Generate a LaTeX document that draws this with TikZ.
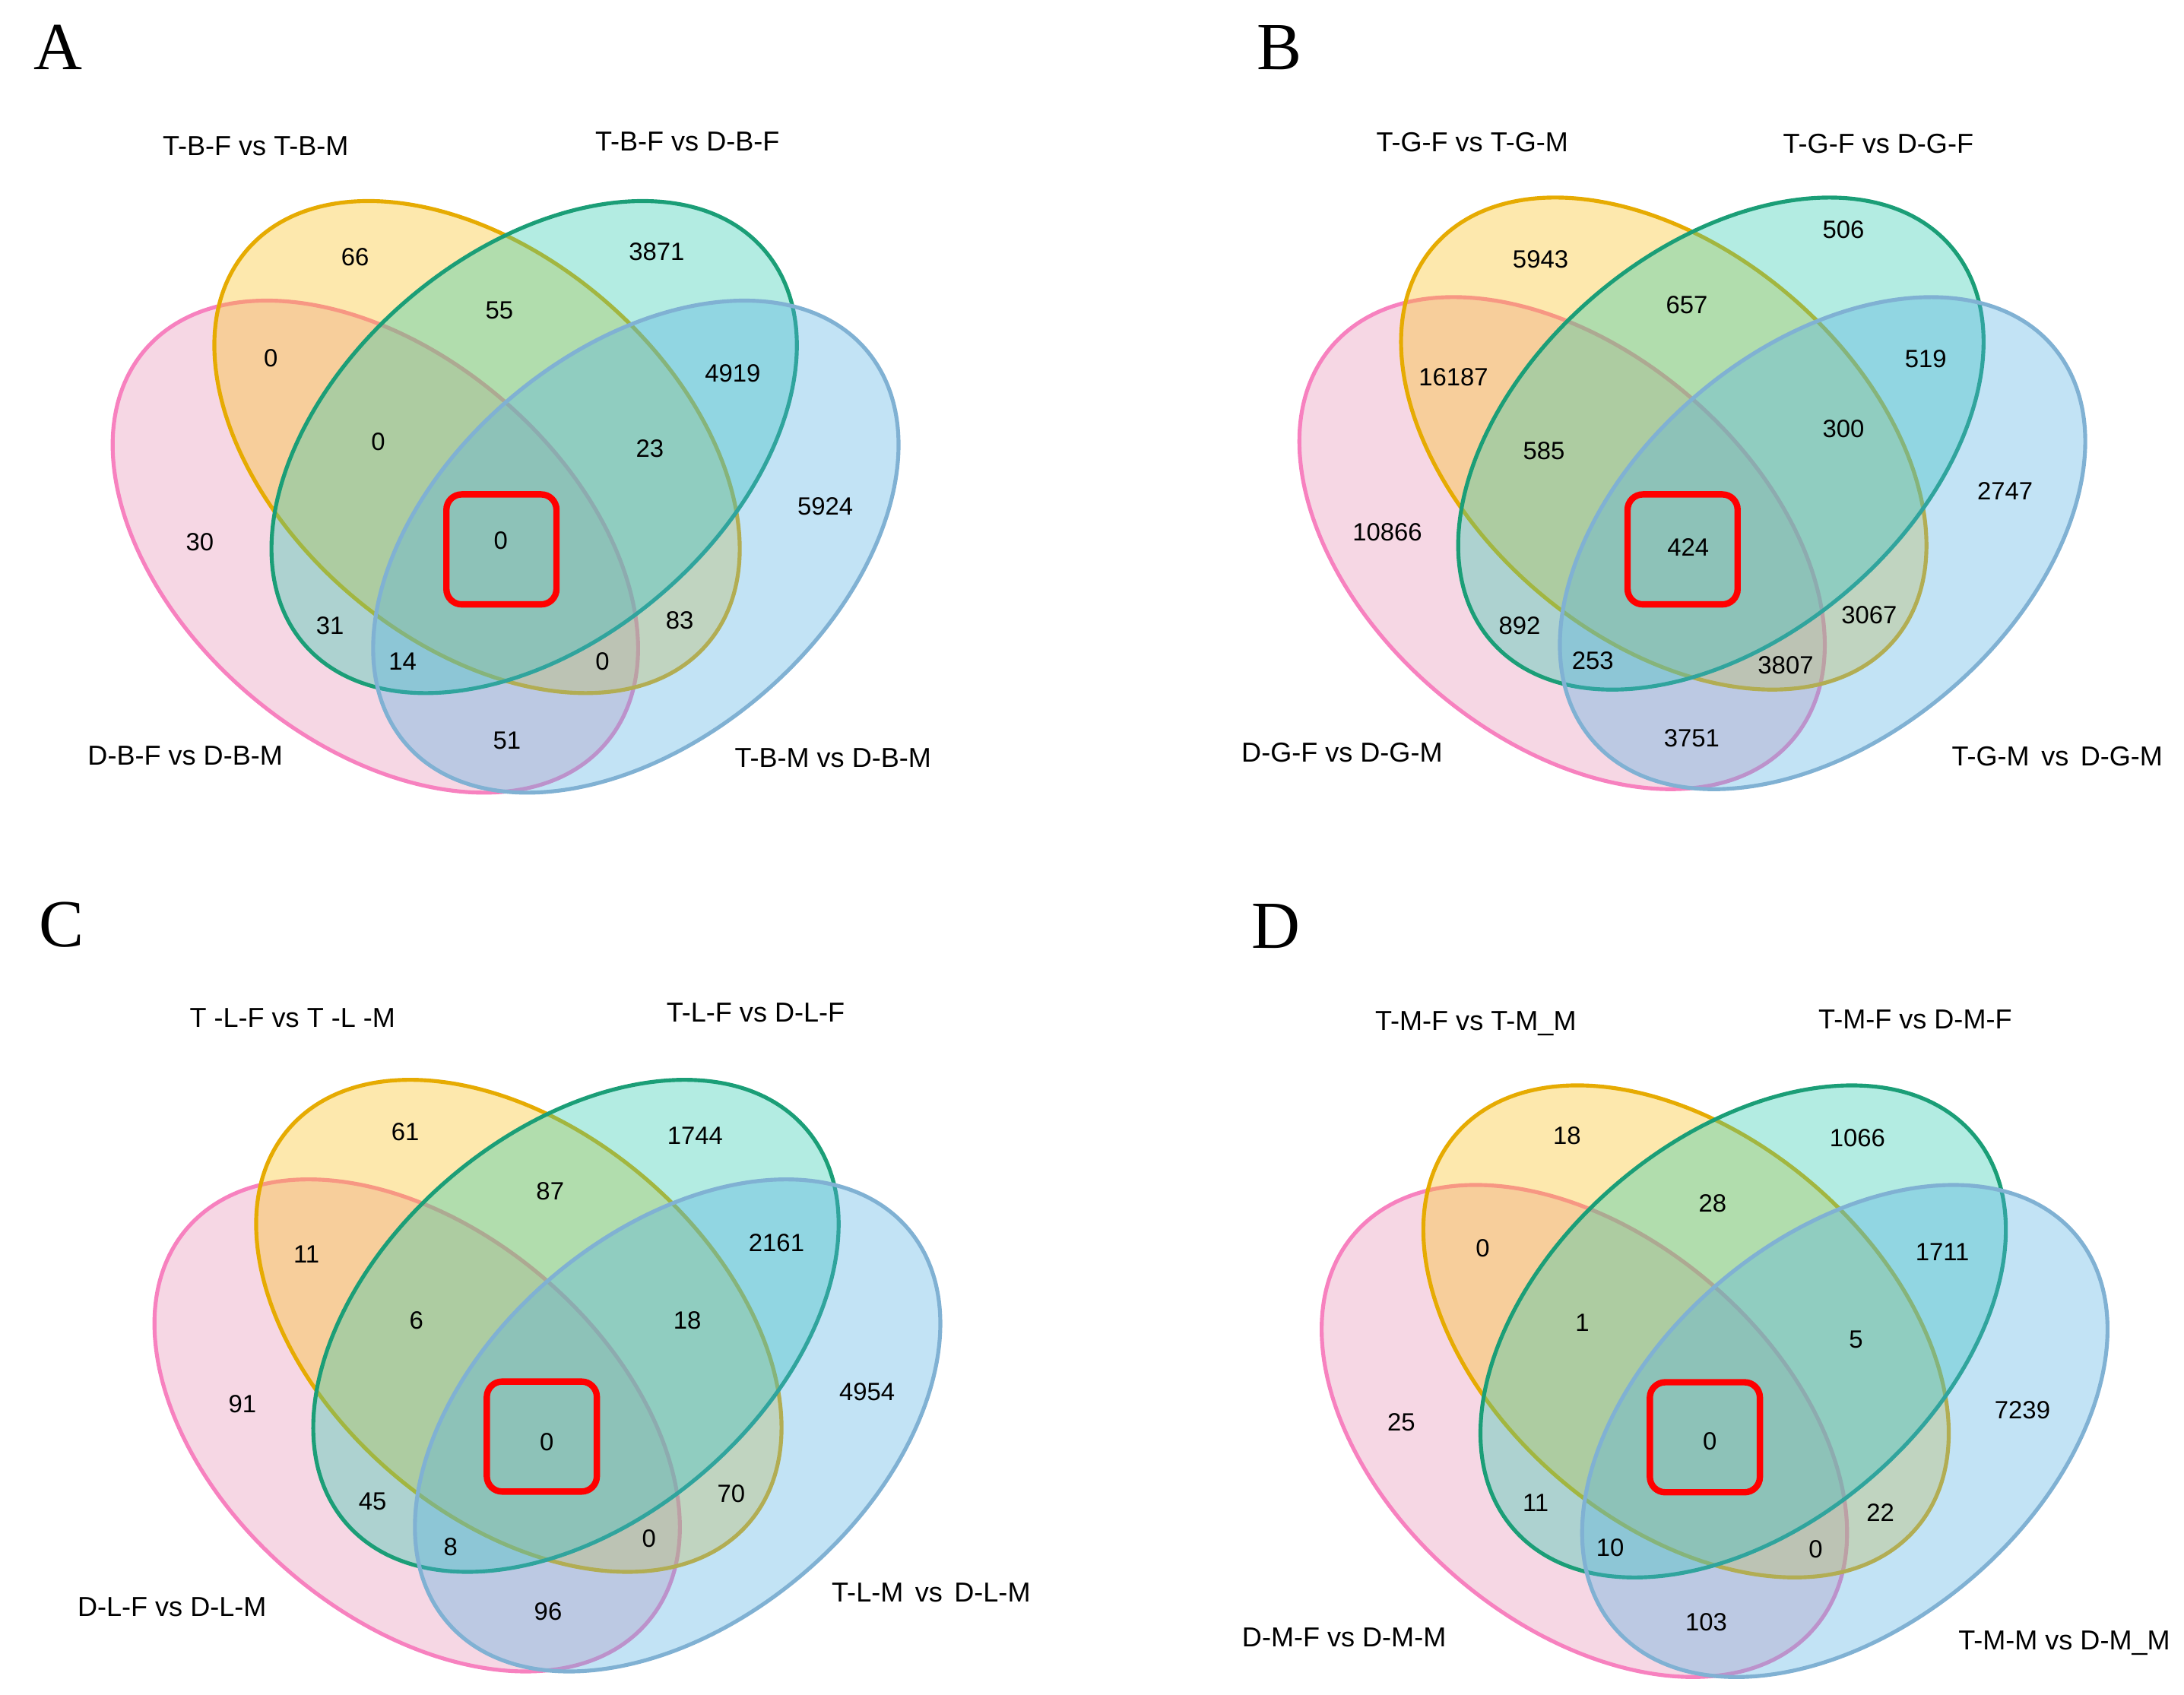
\documentclass[tikz,border=0pt]{standalone}
\usepackage{fontspec}
\setmainfont{Liberation Sans}
\newfontfamily\panelfont{Liberation Serif}
\usepackage{tikz}
\usetikzlibrary{calc}
\usepackage{xcolor}
\definecolor{pinkFill}{HTML}{E690B4}
\definecolor{pinkLine}{HTML}{F781BF}
\definecolor{yellowFill}{HTML}{F9BF1B}
\definecolor{yellowLine}{HTML}{E6AB02}
\definecolor{greenFill}{HTML}{2CCAAE}
\definecolor{greenLine}{HTML}{1B9E77}
\definecolor{blueFill}{HTML}{56B1E3}
\definecolor{blueLine}{HTML}{80B1D3}
\definecolor{boxRed}{HTML}{FF0000}
\tikzset{
  venn set/.style={line width=1.6pt, fill opacity=0.36},
  pink set/.style={venn set, draw=pinkLine, fill=pinkFill},
  yellow set/.style={venn set, draw=yellowLine, fill=yellowFill},
  green set/.style={venn set, draw=greenLine, fill=greenFill},
  blue set/.style={venn set, draw=blueLine, fill=blueFill},
  hit box/.style={draw=boxRed, line width=2.6pt, rounded corners=0.22cm,
    minimum size=1.58cm, inner sep=0pt},
  count/.style={font=\fontsize{10.2}{12}\selectfont, inner sep=0pt},
  set label/.style={font=\fontsize{11.2}{13}\selectfont, inner sep=0pt},
  panel letter/.style={font=\panelfont\fontsize{27.5}{30}\selectfont, inner sep=0pt},
}

\begin{document}
\begin{tikzpicture}
\useasboundingbox (0,0) rectangle (31.36,24.34);

%%%%%%%%%%%%%%%%%%%%%%%%%%%%%%%%%%%%%%%%%%%%%%%%%%%%%%%%%%%%%% Setup
\coordinate (A) at (7.26, 17.92);
\coordinate (B) at (24.30, 17.97);
\coordinate (C) at (7.86, 5.30);
\coordinate (D) at (24.62, 5.22);

%%%%%%%%%%%%%%%%%%%%%%%%%%%%%%%%%%%%%%%%%%%%%%%%%%%%%%%%%%%%%% Panel A
\node[panel letter] (A-letter) at (0.84, 23.66) {A};

\coordinate (A-Ep) at ($(A)+(-1.87,-1.43)$);
\coordinate (A-Ey) at ($(A)+(-0.41,0)$);
\coordinate (A-Eg) at ($(A)+(0.41,0)$);
\coordinate (A-Eb) at ($(A)+(1.87,-1.43)$);
\draw[pink set, rotate around={-40.5:(A-Ep)}] (A-Ep) ellipse [x radius=4.35, y radius=2.79];
\draw[yellow set, rotate around={-40.5:(A-Ey)}] (A-Ey) ellipse [x radius=4.35, y radius=2.79];
\draw[green set, rotate around={40.5:(A-Eg)}] (A-Eg) ellipse [x radius=4.35, y radius=2.79];
\draw[blue set, rotate around={40.5:(A-Eb)}] (A-Eb) ellipse [x radius=4.35, y radius=2.79];

\node[hit box] (A-box) at ($(A)+(-0.06,-1.47)$) {};

\node[set label] (A-Ly) at ($(A)+(-3.59,4.32)$) {T-B-F vs T-B-M};
\node[set label] (A-Lg) at ($(A)+(2.61,4.39)$) {T-B-F vs D-B-F};
\node[set label] (A-Lp) at ($(A)+(-4.60,-4.43)$) {D-B-F vs D-B-M};
\node[set label] (A-Lb) at ($(A)+(4.70,-4.47)$) {T-B-M vs D-B-M};

\node[count] (A-y) at ($(A)+(-2.16,2.73)$) {66};
\node[count] (A-g) at ($(A)+(2.17,2.80)$) {3871};
\node[count] (A-yg) at ($(A)+(-0.09,1.96)$) {55};
\node[count] (A-yp) at ($(A)+(-3.37,1.28)$) {0};
\node[count] (A-gb) at ($(A)+(3.26,1.06)$) {4919};
\node[count] (A-ygp) at ($(A)+(-1.83,0.08)$) {0};
\node[count] (A-ygb) at ($(A)+(2.07,-0.02)$) {23};
\node[count] (A-b) at ($(A)+(4.59,-0.85)$) {5924};
\node[count] (A-p) at ($(A)+(-4.39,-1.37)$) {30};
\node[count] (A-all) at ($(A)+(-0.07,-1.34)$) {0};
\node[count] (A-pg) at ($(A)+(-2.52,-2.57)$) {31};
\node[count] (A-yb) at ($(A)+(2.50,-2.49)$) {83};
\node[count] (A-pgb) at ($(A)+(-1.48,-3.08)$) {14};
\node[count] (A-ypb) at ($(A)+(1.39,-3.08)$) {0};
\node[count] (A-pb) at ($(A)+(0.02,-4.22)$) {51};

%%%%%%%%%%%%%%%%%%%%%%%%%%%%%%%%%%%%%%%%%%%%%%%%%%%%%%%%%%%%%% Panel B
\node[panel letter] (B-letter) at (18.37, 23.66) {B};

\coordinate (B-Ep) at ($(B)+(-1.87,-1.43)$);
\coordinate (B-Ey) at ($(B)+(-0.41,0)$);
\coordinate (B-Eg) at ($(B)+(0.41,0)$);
\coordinate (B-Eb) at ($(B)+(1.87,-1.43)$);
\draw[pink set, rotate around={-40.5:(B-Ep)}] (B-Ep) ellipse [x radius=4.35, y radius=2.79];
\draw[yellow set, rotate around={-40.5:(B-Ey)}] (B-Ey) ellipse [x radius=4.35, y radius=2.79];
\draw[green set, rotate around={40.5:(B-Eg)}] (B-Eg) ellipse [x radius=4.35, y radius=2.79];
\draw[blue set, rotate around={40.5:(B-Eb)}] (B-Eb) ellipse [x radius=4.35, y radius=2.79];

\node[hit box] (B-box) at ($(B)+(-0.14,-1.52)$) {};

\node[set label] (B-Ly) at ($(B)+(-3.16,4.33)$) {T-G-F vs T-G-M};
\node[set label] (B-Lg) at ($(B)+(2.67,4.31)$) {T-G-F vs D-G-F};
\node[set label] (B-Lp) at ($(B)+(-5.03,-4.44)$) {D-G-F vs D-G-M};
\node[set label] (B-Lb) at ($(B)+(5.24,-4.49)$) {T-G-M\hspace{0.43em}vs\hspace{0.43em}D-G-M};

\node[count] (B-y) at ($(B)+(-2.18,2.65)$) {5943};
\node[count] (B-g) at ($(B)+(2.17,3.07)$) {506};
\node[count] (B-yg) at ($(B)+(-0.08,1.99)$) {657};
\node[count] (B-yp) at ($(B)+(-3.43,0.95)$) {16187};
\node[count] (B-gb) at ($(B)+(3.35,1.22)$) {519};
\node[count] (B-ygp) at ($(B)+(-2.13,-0.10)$) {585};
\node[count] (B-ygb) at ($(B)+(2.17,0.21)$) {300};
\node[count] (B-b) at ($(B)+(4.49,-0.68)$) {2747};
\node[count] (B-p) at ($(B)+(-4.38,-1.27)$) {10866};
\node[count] (B-all) at ($(B)+(-0.06,-1.49)$) {424};
\node[count] (B-pg) at ($(B)+(-2.48,-2.62)$) {892};
\node[count] (B-yb) at ($(B)+(2.54,-2.46)$) {3067};
\node[count] (B-pgb) at ($(B)+(-1.43,-3.12)$) {253};
\node[count] (B-ypb) at ($(B)+(1.34,-3.18)$) {3807};
\node[count] (B-pb) at ($(B)+(-0.01,-4.23)$) {3751};

%%%%%%%%%%%%%%%%%%%%%%%%%%%%%%%%%%%%%%%%%%%%%%%%%%%%%%%%%%%%%% Panel C
\node[panel letter] (C-letter) at (0.88, 11.06) {C};

\coordinate (C-Ep) at ($(C)+(-1.87,-1.43)$);
\coordinate (C-Ey) at ($(C)+(-0.41,0)$);
\coordinate (C-Eg) at ($(C)+(0.41,0)$);
\coordinate (C-Eb) at ($(C)+(1.87,-1.43)$);
\draw[pink set, rotate around={-40.5:(C-Ep)}] (C-Ep) ellipse [x radius=4.35, y radius=2.79];
\draw[yellow set, rotate around={-40.5:(C-Ey)}] (C-Ey) ellipse [x radius=4.35, y radius=2.79];
\draw[green set, rotate around={40.5:(C-Eg)}] (C-Eg) ellipse [x radius=4.35, y radius=2.79];
\draw[blue set, rotate around={40.5:(C-Eb)}] (C-Eb) ellipse [x radius=4.35, y radius=2.79];

\node[hit box] (C-box) at ($(C)+(-0.08,-1.59)$) {};

\node[set label] (C-Ly) at ($(C)+(-3.66,4.42)$) {T -L-F vs T -L -M};
\node[set label] (C-Lg) at ($(C)+(2.99,4.50)$) {T-L-F vs D-L-F};
\node[set label] (C-Lp) at ($(C)+(-5.39,-4.04)$) {D-L-F vs D-L-M};
\node[set label] (C-Lb) at ($(C)+(5.51,-3.83)$) {T-L-M\hspace{0.43em}vs\hspace{0.43em}D-L-M};

\node[count] (C-y) at ($(C)+(-2.04,2.78)$) {61};
\node[count] (C-g) at ($(C)+(2.12,2.73)$) {1744};
\node[count] (C-yg) at ($(C)+(0.04,1.93)$) {87};
\node[count] (C-yp) at ($(C)+(-3.46,1.03)$) {11};
\node[count] (C-gb) at ($(C)+(3.29,1.19)$) {2161};
\node[count] (C-ygp) at ($(C)+(-1.88,0.08)$) {6};
\node[count] (C-ygb) at ($(C)+(2.01,0.08)$) {18};
\node[count] (C-b) at ($(C)+(4.59,-0.95)$) {4954};
\node[count] (C-p) at ($(C)+(-4.38,-1.12)$) {91};
\node[count] (C-all) at ($(C)+(-0.01,-1.67)$) {0};
\node[count] (C-pg) at ($(C)+(-2.51,-2.52)$) {45};
\node[count] (C-yb) at ($(C)+(2.64,-2.41)$) {70};
\node[count] (C-pgb) at ($(C)+(-1.39,-3.17)$) {8};
\node[count] (C-ypb) at ($(C)+(1.46,-3.05)$) {0};
\node[count] (C-pb) at ($(C)+(0.01,-4.10)$) {96};

%%%%%%%%%%%%%%%%%%%%%%%%%%%%%%%%%%%%%%%%%%%%%%%%%%%%%%%%%%%%%% Panel D
\node[panel letter] (D-letter) at (18.32, 11.04) {D};

\coordinate (D-Ep) at ($(D)+(-1.87,-1.43)$);
\coordinate (D-Ey) at ($(D)+(-0.41,0)$);
\coordinate (D-Eg) at ($(D)+(0.41,0)$);
\coordinate (D-Eb) at ($(D)+(1.87,-1.43)$);
\draw[pink set, rotate around={-40.5:(D-Ep)}] (D-Ep) ellipse [x radius=4.35, y radius=2.79];
\draw[yellow set, rotate around={-40.5:(D-Ey)}] (D-Ey) ellipse [x radius=4.35, y radius=2.79];
\draw[green set, rotate around={40.5:(D-Eg)}] (D-Eg) ellipse [x radius=4.35, y radius=2.79];
\draw[blue set, rotate around={40.5:(D-Eb)}] (D-Eb) ellipse [x radius=4.35, y radius=2.79];

\node[hit box] (D-box) at ($(D)+(-0.14,-1.52)$) {};

\node[set label] (D-Ly) at ($(D)+(-3.43,4.42)$) {T-M-F vs T-M\_M};
\node[set label] (D-Lg) at ($(D)+(2.88,4.48)$) {T-M-F vs D-M-F};
\node[set label] (D-Lp) at ($(D)+(-5.32,-4.40)$) {D-M-F vs D-M-M};
\node[set label] (D-Lb) at ($(D)+(5.02,-4.48)$) {T-M-M vs D-M\_M};

\node[count] (D-y) at ($(D)+(-2.12,2.81)$) {18};
\node[count] (D-g) at ($(D)+(2.05,2.78)$) {1066};
\node[count] (D-yg) at ($(D)+(-0.03,1.84)$) {28};
\node[count] (D-yp) at ($(D)+(-3.33,1.20)$) {0};
\node[count] (D-gb) at ($(D)+(3.27,1.14)$) {1711};
\node[count] (D-ygp) at ($(D)+(-1.90,0.12)$) {1};
\node[count] (D-ygb) at ($(D)+(2.03,-0.12)$) {5};
\node[count] (D-b) at ($(D)+(4.42,-1.13)$) {7239};
\node[count] (D-p) at ($(D)+(-4.50,-1.31)$) {25};
\node[count] (D-all) at ($(D)+(-0.07,-1.58)$) {0};
\node[count] (D-pg) at ($(D)+(-2.57,-2.46)$) {11};
\node[count] (D-yb) at ($(D)+(2.38,-2.60)$) {22};
\node[count] (D-pgb) at ($(D)+(-1.50,-3.11)$) {10};
\node[count] (D-ypb) at ($(D)+(1.45,-3.13)$) {0};
\node[count] (D-pb) at ($(D)+(-0.12,-4.18)$) {103};

\end{tikzpicture}
\end{document}
